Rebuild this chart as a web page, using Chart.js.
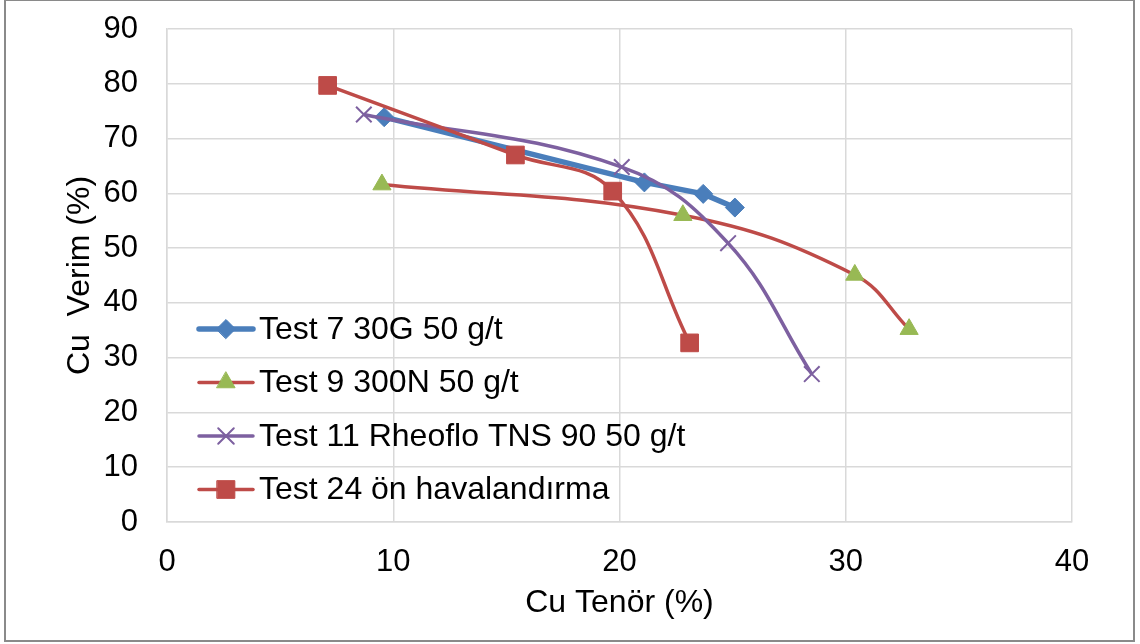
<!DOCTYPE html>
<html>
<head>
<meta charset="utf-8">
<script src="https://cdn.jsdelivr.net/npm/chart.js@4.4.1/dist/chart.umd.min.js"></script>
<style>
  html, body { margin: 0; padding: 0; background: #fff; }
  canvas { display: block; }
</style>
</head>
<body>
<canvas id="chart" width="1140" height="644"></canvas>
<script>
// values
var seriesNames = ['Test 7 30G 50 g/t', 'Test 9 300N 50 g/t', 'Test 11 Rheoflo TNS 90 50 g/t', 'Test 24 ön havalandırma'];

var test7Grade = [9.6, 21.1, 23.7, 25.1];
var test7Rec   = [73.9, 62.0, 59.9, 57.4];

var test9Grade = [9.5, 22.8, 30.4, 32.8];
var test9Rec   = [61.6, 56.0, 45.1, 35.2];

var test11Grade = [8.7, 20.1, 24.8, 28.5];
var test11Rec   = [74.4, 64.8, 50.9, 27.0];

var test24Grade = [7.1, 15.4, 19.7, 23.1];
var test24Rec   = [79.7, 67.0, 60.4, 32.7];

var xTicks = [0, 10, 20, 30, 40];
var yTicks = [0, 10, 20, 30, 40, 50, 60, 70, 80, 90];

var FONT = '"Liberation Sans", Arial, sans-serif';

var pts = function(xs, ys){
  var out = [];
  for (var i = 0; i < xs.length; i++) out.push({x: xs[i], y: ys[i]});
  return out;
};

// outer frame like the excel chart border
var framePlugin = {
  id: 'frame',
  beforeDraw: function(chart){
    var ctx = chart.ctx;
    ctx.save();
    ctx.fillStyle = '#fff';
    ctx.fillRect(0, 0, chart.width, chart.height);
    ctx.strokeStyle = '#8a8a8a';
    ctx.lineWidth = 2;
    ctx.strokeRect(5, 0, 1129, 641);
    ctx.restore();
  }
};

// legend inside the plot area, one entry per row
var legendPlugin = {
  id: 'insideLegend',
  afterDraw: function(chart){
    var ctx = chart.ctx;
    var x0 = 199, x1 = 253, tx = 259;
    var y = 329, step = 53.5;
    chart.data.datasets.forEach(function(ds, i){
      var yy = y + i * step;
      ctx.save();
      ctx.strokeStyle = ds.borderColor;
      ctx.lineWidth = ds.borderWidth;
      ctx.lineCap = 'round';
      ctx.beginPath();
      ctx.moveTo(x0, yy);
      ctx.lineTo(x1, yy);
      ctx.stroke();
      ctx.fillStyle = ds.pointBackgroundColor;
      ctx.strokeStyle = ds.pointBorderColor;
      ctx.lineWidth = ds.pointBorderWidth;
      Chart.helpers.drawPoint(ctx, {pointStyle: ds.pointStyle, radius: ds.pointRadius, borderWidth: ds.pointBorderWidth, rotation: 0}, (x0 + x1) / 2, yy);
      ctx.fillStyle = '#000';
      ctx.font = '32px ' + FONT;
      ctx.textBaseline = 'middle';
      ctx.textAlign = 'left';
      ctx.fillText(ds.label, tx, yy + 1);
      ctx.restore();
    });
  }
};

var ctx = document.getElementById('chart').getContext('2d');
var chart = new Chart(ctx, {
  type: 'scatter',
  data: {
    datasets: [
      {
        label: seriesNames[0],
        data: pts(test7Grade, test7Rec),
        showLine: true,
        tension: 0,
        borderColor: '#4a7ebb',
        borderWidth: 5.5,
        pointStyle: 'rectRot',
        pointRadius: 9.5,
        pointBackgroundColor: '#4a7ebb',
        pointBorderColor: '#4a7ebb',
        pointBorderWidth: 1,
        order: 4
      },
      {
        label: seriesNames[1],
        data: pts(test9Grade, test9Rec),
        showLine: true,
        tension: 0.4,
        borderColor: '#be4b48',
        borderWidth: 3.5,
        pointStyle: 'triangle',
        pointRadius: 10.5,
        pointBackgroundColor: '#98b954',
        pointBorderColor: '#98b954',
        pointBorderWidth: 1,
        order: 3
      },
      {
        label: seriesNames[2],
        data: pts(test11Grade, test11Rec),
        showLine: true,
        tension: 0.4,
        borderColor: '#7d60a0',
        borderWidth: 3.5,
        pointStyle: 'crossRot',
        pointRadius: 11,
        pointBackgroundColor: '#7d60a0',
        pointBorderColor: '#7d60a0',
        pointBorderWidth: 2,
        order: 2
      },
      {
        label: seriesNames[3],
        data: pts(test24Grade, test24Rec),
        showLine: true,
        tension: 0.4,
        borderColor: '#be4b48',
        borderWidth: 3.5,
        pointStyle: 'rect',
        pointRadius: 12.5,
        pointBackgroundColor: '#be4b48',
        pointBorderColor: '#be4b48',
        pointBorderWidth: 1,
        order: 1
      }
    ]
  },
  options: {
    responsive: false,
    animation: false,
    layout: { padding: { left: 0, top: 29, right: 68, bottom: 0 } },
    plugins: {
      legend: { display: false },
      tooltip: { enabled: false }
    },
    scales: {
      x: {
        type: 'linear',
        min: xTicks[0],
        max: xTicks[xTicks.length - 1],
        afterBuildTicks: function(scale){ scale.ticks = xTicks.map(function(v){ return {value: v}; }); },
        afterFit: function(scale){ scale.height = 122; },
        ticks: { color: '#000', font: { family: FONT, size: 31 }, padding: 22, maxRotation: 0 },
        grid: { color: '#d9d9d9', lineWidth: 1.5, drawTicks: false },
        border: { color: '#d9d9d9', width: 1.5 },
        title: { display: true, text: 'Cu Tenör (%)', color: '#000', font: { family: FONT, size: 32 }, padding: { top: 0, bottom: 22 } }
      },
      y: {
        type: 'linear',
        min: yTicks[0],
        max: yTicks[yTicks.length - 1],
        afterBuildTicks: function(scale){ scale.ticks = yTicks.map(function(v){ return {value: v}; }); },
        afterFit: function(scale){ scale.width = 167; },
        ticks: { color: '#000', font: { family: FONT, size: 31 }, padding: 4 },
        grid: { color: '#d9d9d9', lineWidth: 1.5, drawTicks: true, tickLength: 25, tickColor: 'rgba(0,0,0,0)' },
        border: { color: '#d9d9d9', width: 1.5 },
        title: { display: true, text: 'Cu  Verim (%)', color: '#000', font: { family: FONT, size: 32 }, padding: { top: 61, bottom: 0 } }
      }
    }
  },
  plugins: [framePlugin, legendPlugin]
});
</script>
</body>
</html>
